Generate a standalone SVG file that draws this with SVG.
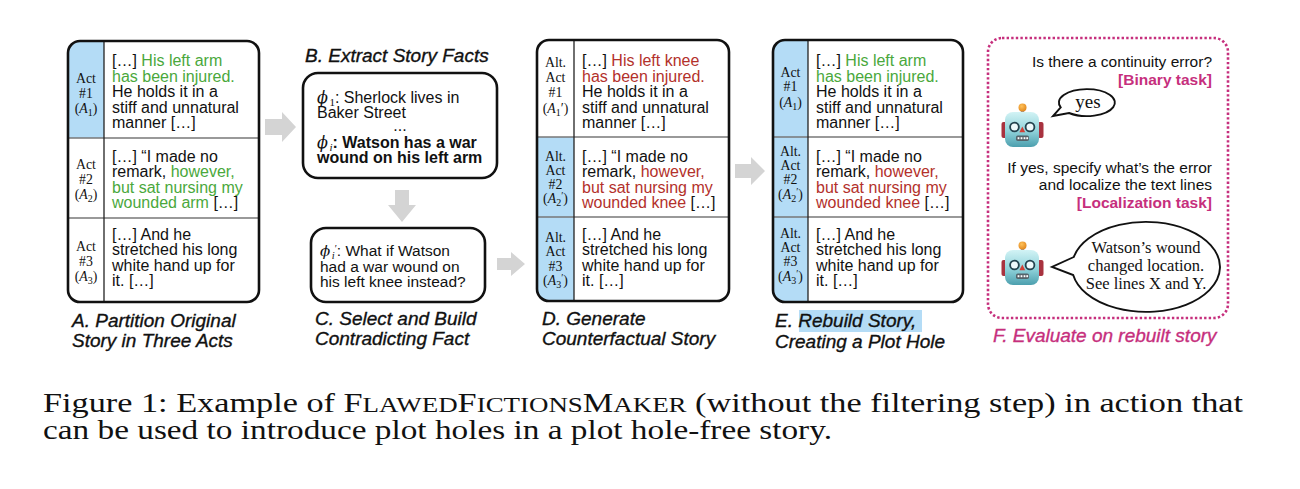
<svg xmlns="http://www.w3.org/2000/svg" width="1300" height="489" viewBox="0 0 1300 489">
<style>
.t{font-family:"Liberation Sans",Arial,sans-serif;font-size:16px;fill:#111}
.tc{font-family:"Liberation Sans",Arial,sans-serif;font-size:15.5px;fill:#111}
.g{fill:#4aa83c}
.r{fill:#b3312b}
.lab{font-family:"Liberation Serif","DejaVu Serif",serif;font-size:13.8px;fill:#111;text-anchor:middle}
.phi{font-family:"DejaVu Serif",serif;font-style:italic;font-weight:normal}
.ser{font-family:"Liberation Serif","DejaVu Serif",serif;font-weight:normal}
.cap{font-family:"Liberation Sans",Arial,sans-serif;font-size:19px;font-style:italic;fill:#111;stroke:#111;stroke-width:0.35}
.capm{fill:#c62f7d;stroke:#c62f7d}
.box{fill:none;stroke:#111;stroke-width:2.6}
.div{stroke:#222;stroke-width:1.3}
.row{stroke:#777;stroke-width:1.3}
.blue{fill:#b4dcf6}
.arr{fill:#d4d4d4}
.f{font-family:"Liberation Sans",Arial,sans-serif;font-size:15.5px;fill:#111;text-anchor:end}
.fm{fill:#c62f7d;font-weight:bold}
.bub{fill:#fff;stroke:#111;stroke-width:1.9}
.bt{font-family:"Liberation Serif","DejaVu Serif",serif;fill:#111;text-anchor:middle}
.fig{font-family:"Liberation Serif","DejaVu Serif",serif;font-size:28px;fill:#111}
</style>
<defs>
<clipPath id="clipA"><rect x="68" y="41" width="191" height="261" rx="12"/></clipPath>
<clipPath id="clipD"><rect x="537" y="40" width="192" height="261" rx="12"/></clipPath>
<clipPath id="clipE"><rect x="773" y="40" width="190" height="262" rx="12"/></clipPath>
<linearGradient id="headGrad" x1="0" y1="0" x2="0" y2="1">
<stop offset="0" stop-color="#d2f3f5"/>
<stop offset="0.55" stop-color="#8fd2da"/>
<stop offset="1" stop-color="#4c9fae"/>
</linearGradient>
<radialGradient id="ballGrad" cx="0.4" cy="0.35" r="0.7">
<stop offset="0" stop-color="#ffc25a"/>
<stop offset="1" stop-color="#e0841a"/>
</radialGradient>
<g id="robot">
<rect x="1001.5" y="122" width="6" height="16" rx="2" fill="#a8323f"/>
<rect x="1037.5" y="122" width="6" height="16" rx="2" fill="#a8323f"/>
<rect x="1020.8" y="109" width="3.4" height="4" fill="#9a9a9a"/>
<circle cx="1022.5" cy="107.5" r="4" fill="url(#ballGrad)"/>
<rect x="1005" y="112" width="34" height="35" rx="8" fill="url(#headGrad)"/>
<circle cx="1014.5" cy="127" r="4.4" fill="#eef9fb" stroke="#24434f" stroke-width="1.8"/>
<circle cx="1030" cy="127" r="4.4" fill="#eef9fb" stroke="#24434f" stroke-width="1.8"/>
<polygon points="1022.3,126.5 1019.4,132.2 1025.2,132.2" fill="#d23f36"/>
<rect x="1016" y="135.5" width="13" height="5.5" rx="1.8" fill="#55636a"/>
<rect x="1017.6" y="137.2" width="1.8" height="2" fill="#fff"/>
<rect x="1020.6" y="137.2" width="1.8" height="2" fill="#fff"/>
<rect x="1023.6" y="137.2" width="1.8" height="2" fill="#fff"/>
<rect x="1026.3" y="137.2" width="1.8" height="2" fill="#fff"/>
</g>
</defs>

<g id="connectors">
<path class="arr" d="M265,119 H282 V112 L296,127 L282,142 V135 H265 Z"/>
<path class="arr" d="M395,190 V205 H388 L402,222 L416,205 H409 V190 Z"/>
<path class="arr" d="M497,258 H511 V252 L525,264 L511,276 V270 H497 Z"/>
<path class="arr" d="M735,164 H751 V157 L765,171 L751,185 V178 H735 Z"/>
</g>

<g id="nodeA">
<rect class="blue" x="68" y="41" width="36" height="97" clip-path="url(#clipA)"/>
<line class="row" x1="68" y1="138" x2="259" y2="138"/>
<line class="row" x1="68" y1="218" x2="259" y2="218"/>
<line class="div" x1="104" y1="41" x2="104" y2="302"/>
<rect class="box" x="68" y="41" width="191" height="261" rx="12"/>
<text class="lab" x="86" y="83">Act</text>
<text class="lab" x="86" y="98">#1</text>
<text class="lab" x="86" y="113">(<tspan font-style="italic">A</tspan><tspan font-size="10" dy="3">1</tspan><tspan dy="-3">)</tspan></text>
<text class="lab" x="86" y="169">Act</text>
<text class="lab" x="86" y="184">#2</text>
<text class="lab" x="86" y="199">(<tspan font-style="italic">A</tspan><tspan font-size="10" dy="3">2</tspan><tspan dy="-3">)</tspan></text>
<text class="lab" x="86" y="251">Act</text>
<text class="lab" x="86" y="266">#3</text>
<text class="lab" x="86" y="281">(<tspan font-style="italic">A</tspan><tspan font-size="10" dy="3">3</tspan><tspan dy="-3">)</tspan></text>
<text class="t" x="112" y="66">[…] <tspan class="g">His left arm</tspan></text>
<text class="t g" x="112" y="81.5">has been injured.</text>
<text class="t" x="112" y="97">He holds it in a</text>
<text class="t" x="112" y="112.5">stiff and unnatural</text>
<text class="t" x="112" y="128">manner […]</text>
<text class="t" x="112" y="161.5">[…] “I made no</text>
<text class="t" x="112" y="177">remark, <tspan class="g">however,</tspan></text>
<text class="t g" x="112" y="192.5">but sat nursing my</text>
<text class="t" x="112" y="208"><tspan class="g">wounded arm</tspan> […]</text>
<text class="t" x="112" y="239.5">[…] And he</text>
<text class="t" x="112" y="255">stretched his long</text>
<text class="t" x="112" y="270.5">white hand up for</text>
<text class="t" x="112" y="286">it. […]</text>
<text class="cap" x="72" y="327">A. Partition Original</text>
<text class="cap" x="72" y="347">Story in Three Acts</text>
</g>

<g id="nodeB">
<text class="cap" x="305" y="62">B. Extract Story Facts</text>
<rect class="box" x="303" y="73" width="194" height="105" rx="15"/>
<text class="t" x="317" y="103"><tspan class="phi" font-size="16">ϕ</tspan><tspan class="ser" font-size="11" dx="1.5" dy="3">1</tspan><tspan dy="-3">: Sherlock lives in</tspan></text>
<text class="t" x="317" y="118">Baker Street</text>
<text class="t" x="400" y="131" text-anchor="middle" font-size="11">...</text>
<text class="t" x="317" y="148" font-weight="bold"><tspan class="phi" font-size="16">ϕ</tspan><tspan class="ser" font-style="italic" font-size="11" dx="1.5" dy="3">i</tspan><tspan dy="-3">: Watson has a war</tspan></text>
<text class="t" x="317" y="163" font-weight="bold">wound on his left arm</text>
</g>

<g id="nodeC">
<rect class="box" x="311" y="228" width="174" height="74" rx="15"/>
<text class="tc" x="320" y="256"><tspan class="phi" font-size="15">ϕ</tspan><tspan class="ser" font-style="italic" font-size="10.5" dx="1.5" dy="3">i</tspan><tspan class="ser" font-size="10" dy="-7">′</tspan><tspan dy="4">: What if Watson</tspan></text>
<text class="tc" x="320" y="272">had a war wound on</text>
<text class="tc" x="320" y="287">his left knee instead?</text>
<text class="cap" x="315" y="325">C. Select and Build</text>
<text class="cap" x="315" y="345">Contradicting Fact</text>
</g>

<g id="nodeD">
<rect class="blue" x="537" y="137" width="37" height="164" clip-path="url(#clipD)"/>
<line class="row" x1="537" y1="137" x2="729" y2="137"/>
<line class="row" x1="537" y1="217" x2="729" y2="217"/>
<line class="div" x1="574" y1="40" x2="574" y2="301"/>
<rect class="box" x="537" y="40" width="192" height="261" rx="12"/>
<text class="lab" x="555.5" y="67">Alt.</text>
<text class="lab" x="555.5" y="82">Act</text>
<text class="lab" x="555.5" y="97">#1</text>
<text class="lab" x="555.5" y="113">(<tspan font-style="italic">A</tspan><tspan font-size="10" dy="3">1</tspan><tspan dy="-3">′)</tspan></text>
<text class="lab" x="555.5" y="161">Alt.</text>
<text class="lab" x="555.5" y="175">Act</text>
<text class="lab" x="555.5" y="189">#2</text>
<text class="lab" x="555.5" y="203">(<tspan font-style="italic">A</tspan><tspan font-size="10" dy="3">2</tspan><tspan font-size="10" dy="-7">′</tspan><tspan dy="4">)</tspan></text>
<text class="lab" x="555.5" y="242">Alt.</text>
<text class="lab" x="555.5" y="256">Act</text>
<text class="lab" x="555.5" y="271">#3</text>
<text class="lab" x="555.5" y="285">(<tspan font-style="italic">A</tspan><tspan font-size="10" dy="3">3</tspan><tspan font-size="10" dy="-7">′</tspan><tspan dy="4">)</tspan></text>
<text class="t" x="582" y="66">[…] <tspan class="r">His left knee</tspan></text>
<text class="t r" x="582" y="81.5">has been injured.</text>
<text class="t" x="582" y="97">He holds it in a</text>
<text class="t" x="582" y="112.5">stiff and unnatural</text>
<text class="t" x="582" y="128">manner […]</text>
<text class="t" x="582" y="161.5">[…] “I made no</text>
<text class="t" x="582" y="177">remark, <tspan class="r">however,</tspan></text>
<text class="t r" x="582" y="192.5">but sat nursing my</text>
<text class="t" x="582" y="208"><tspan class="r">wounded knee</tspan> […]</text>
<text class="t" x="582" y="239.5">[…] And he</text>
<text class="t" x="582" y="255">stretched his long</text>
<text class="t" x="582" y="270.5">white hand up for</text>
<text class="t" x="582" y="286">it. […]</text>
<text class="cap" x="542" y="325">D. Generate</text>
<text class="cap" x="542" y="345">Counterfactual Story</text>
</g>

<g id="nodeE">
<rect class="blue" x="773" y="40" width="35" height="262" clip-path="url(#clipE)"/>
<line class="row" x1="773" y1="137" x2="963" y2="137"/>
<line class="row" x1="773" y1="217" x2="963" y2="217"/>
<line class="div" x1="808" y1="40" x2="808" y2="302"/>
<rect class="box" x="773" y="40" width="190" height="262" rx="12"/>
<text class="lab" x="790.5" y="77">Act</text>
<text class="lab" x="790.5" y="91">#1</text>
<text class="lab" x="790.5" y="107">(<tspan font-style="italic">A</tspan><tspan font-size="10" dy="3">1</tspan><tspan dy="-3">)</tspan></text>
<text class="lab" x="790.5" y="156">Alt.</text>
<text class="lab" x="790.5" y="170">Act</text>
<text class="lab" x="790.5" y="184">#2</text>
<text class="lab" x="790.5" y="199">(<tspan font-style="italic">A</tspan><tspan font-size="10" dy="3">2</tspan><tspan font-size="10" dy="-7">′</tspan><tspan dy="4">)</tspan></text>
<text class="lab" x="790.5" y="238">Alt.</text>
<text class="lab" x="790.5" y="252">Act</text>
<text class="lab" x="790.5" y="266">#3</text>
<text class="lab" x="790.5" y="281">(<tspan font-style="italic">A</tspan><tspan font-size="10" dy="3">3</tspan><tspan font-size="10" dy="-7">′</tspan><tspan dy="4">)</tspan></text>
<text class="t" x="816" y="66">[…] <tspan class="g">His left arm</tspan></text>
<text class="t g" x="816" y="81.5">has been injured.</text>
<text class="t" x="816" y="97">He holds it in a</text>
<text class="t" x="816" y="112.5">stiff and unnatural</text>
<text class="t" x="816" y="128">manner […]</text>
<text class="t" x="816" y="161.5">[…] “I made no</text>
<text class="t" x="816" y="177">remark, <tspan class="r">however,</tspan></text>
<text class="t r" x="816" y="192.5">but sat nursing my</text>
<text class="t" x="816" y="208"><tspan class="r">wounded knee</tspan> […]</text>
<text class="t" x="816" y="239.5">[…] And he</text>
<text class="t" x="816" y="255">stretched his long</text>
<text class="t" x="816" y="270.5">white hand up for</text>
<text class="t" x="816" y="286">it. […]</text>
<rect class="blue" x="799" y="310" width="123" height="22"/>
<text class="cap" x="775" y="327">E. Rebuild Story,</text>
<text class="cap" x="775" y="348">Creating a Plot Hole</text>
</g>

<g id="nodeF">
<rect x="988" y="38" width="240" height="280" rx="14" fill="none" stroke="#c62f7d" stroke-width="2.6" stroke-dasharray="2.4 2.2"/>
<text class="f" x="1212" y="67">Is there a continuity error?</text>
<text class="f fm" x="1212" y="85">[Binary task]</text>
<path class="bub" d="M1060.7,107.4 L1053,116 L1069,113 A28,13.5 0 1 0 1060.7,107.4 Z"/>
<text class="bt" x="1088" y="108" font-size="19">yes</text>
<use href="#robot"/>
<text class="f" x="1212" y="173">If yes, specify what’s the error</text>
<text class="f" x="1212" y="190">and localize the text lines</text>
<text class="f fm" x="1212" y="208">[Localization task]</text>
<use href="#robot" transform="translate(0,138)"/>
<path class="bub" d="M1073.8,257 L1052,267 L1073.2,275 A74,45 0 1 0 1073.8,257 Z"/>
<text class="bt" x="1146" y="253" font-size="16.5">Watson’s wound</text>
<text class="bt" x="1146" y="271" font-size="16.5">changed location.</text>
<text class="bt" x="1146" y="289" font-size="16.5">See lines X and Y.</text>
<text class="cap capm" x="993" y="342">F. Evaluate on rebuilt story</text>
</g>

<g id="caption">
<text class="fig" x="43" y="412" textLength="1200" lengthAdjust="spacingAndGlyphs">Figure 1: Example of F<tspan font-size="22">LAWED</tspan>F<tspan font-size="22">ICTIONS</tspan>M<tspan font-size="22">AKER</tspan> (without the filtering step) in action that</text>
<text class="fig" x="43" y="439" textLength="789" lengthAdjust="spacingAndGlyphs">can be used to introduce plot holes in a plot hole-free story.</text>
</g>
</svg>
